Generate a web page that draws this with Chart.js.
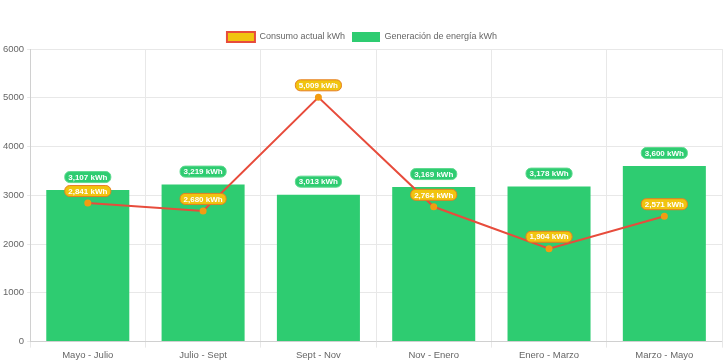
<!DOCTYPE html>
<html>
<head>
<meta charset="utf-8">
<script src="https://cdn.jsdelivr.net/npm/chart.js@4/dist/chart.umd.min.js"></script>
<style>
  html, body { margin: 0; padding: 0; background: #fff; }
  #wrap { width: 728px; height: 363px; }
</style>
</head>
<body>
<div id="wrap"><canvas id="chart"></canvas></div>
<script>
// periods + readings (kWh)
const periodos = ["Mayo - Julio", "Julio - Sept", "Sept - Nov", "Nov - Enero", "Enero - Marzo", "Marzo - Mayo"];
const consumo = [2841, 2680, 5009, 2764, 1904, 2571];
const generacion = [3107, 3219, 3013, 3169, 3178, 3600];
const yTicks = [0, 1000, 2000, 3000, 4000, 5000, 6000];

Chart.defaults.font.family = "'Liberation Sans', Arial, sans-serif";
Chart.defaults.font.size = 9.5;
Chart.defaults.color = "#666";

const fmt = v => v.toLocaleString("en-US") + " kWh";

function pill(ctx, x, y, text, fill, stroke) {
  ctx.font = "bold 8px 'Liberation Sans', Arial, sans-serif";
  const w = ctx.measureText(text).width + 7;
  const h = 11;
  ctx.beginPath();
  ctx.roundRect(x - w / 2, y - h / 2, w, h, 5);
  ctx.fillStyle = fill;
  ctx.fill();
  ctx.lineWidth = 1;
  ctx.strokeStyle = stroke;
  ctx.stroke();
  ctx.fillStyle = "#fff";
  ctx.textAlign = "center";
  ctx.textBaseline = "middle";
  ctx.fillText(text, x, y + 0.5);
}

// little labels over bars and points (no datalabels plugin here)
const valueLabels = {
  id: "valueLabels",
  afterDatasetsDraw(chart) {
    const ctx = chart.ctx;
    ctx.save();
    chart.getDatasetMeta(1).data.forEach((el, i) => pill(ctx, el.x, el.y - 13, fmt(generacion[i]), "#2ecc71", "#5fd98f"));
    chart.getDatasetMeta(0).data.forEach((el, i) => pill(ctx, el.x, el.y - 12, fmt(consumo[i]), "#f1c40f", "#e67e22"));
    ctx.restore();
  }
};

// legend sits a bit closer to the plot than the default
const tightLegend = {
  id: "tightLegend",
  afterInit(chart) {
    const lg = chart.legend;
    const fit = lg.fit;
    lg.fit = function () { fit.call(this); this.height -= 3; };
  }
};

new Chart(document.getElementById("chart"), {
  type: "bar",
  data: {
    labels: periodos,
    datasets: [
      {
        type: "line",
        label: "Consumo actual kWh",
        data: consumo,
        borderColor: "#e74c3c",
        backgroundColor: "#f1c40f",
        borderWidth: 2,
        pointRadius: 2.5,
        pointBackgroundColor: "#f39c12",
        pointBorderColor: "#f39c12",
        tension: 0,
        fill: false,
        order: 0
      },
      {
        label: "Generación de energía kWh",
        data: generacion,
        backgroundColor: "#2ecc71",
        borderColor: "#2ecc71",
        order: 1
      }
    ]
  },
  options: {
    responsive: true,
    maintainAspectRatio: false,
    animation: false,
    layout: { padding: { top: 25, right: 4, bottom: 0, left: 0 } },
    plugins: {
      legend: {
        labels: { boxWidth: 28, boxHeight: 10, padding: 7, color: "#666", font: { size: 9 } }
      },
      tooltip: { enabled: false }
    },
    scales: {
      x: {
        grid: { color: "#e8e8e8", tickLength: 6 },
        ticks: { color: "#666", padding: 2 }
      },
      y: {
        min: yTicks[0],
        max: yTicks[yTicks.length - 1],
        ticks: { stepSize: 1000, color: "#666", padding: 3, callback: v => String(v) },
        grid: { color: "#e8e8e8", tickLength: 3 }
      }
    }
  },
  plugins: [valueLabels, tightLegend]
});
</script>
</body>
</html>
